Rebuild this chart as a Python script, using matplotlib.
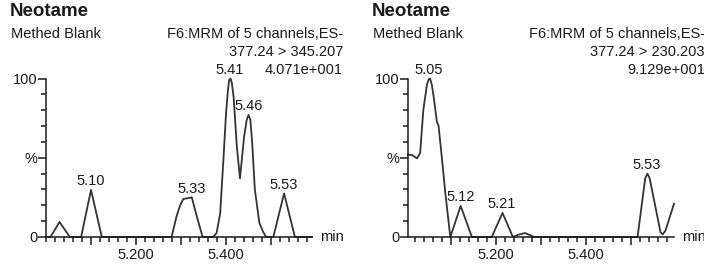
import matplotlib.pyplot as plt
from matplotlib.ticker import FixedLocator, MultipleLocator, FuncFormatter

plt.rcParams['font.family'] = ['Liberation Sans', 'DejaVu Sans']

# Left chromatogram: 377.24 > 345.207
time_left = [5.000, 5.010, 5.030, 5.053, 5.078, 5.100, 5.124,
             5.279, 5.290, 5.298, 5.305, 5.316, 5.324, 5.335, 5.348,
             5.371, 5.379, 5.387, 5.394, 5.400, 5.404, 5.407, 5.410, 5.413, 5.417, 5.424,
             5.431, 5.440, 5.446, 5.450, 5.454, 5.458, 5.464, 5.474, 5.482, 5.489,
             5.505, 5.529, 5.553, 5.591]
int_left = [0, 0, 9.5, 0, 0, 29.7, 0,
            0, 13, 20, 24, 24.5, 25, 13, 0,
            0, 2.5, 15, 48, 78, 92, 99, 100, 97, 88, 57,
            37, 63, 74, 77, 74, 60, 30, 9, 3.5, 0,
            0, 27.5, 0, 0]
peaks_left = [5.10, 5.33, 5.41, 5.46, 5.53]
peak_x_left = [5.099, 5.324, 5.408, 5.451, 5.528]
peak_y_left = [29.7, 25, 100, 77, 27.5]

# Right chromatogram: 377.24 > 230.203
time_right = [5.004, 5.013, 5.024, 5.031, 5.038, 5.046, 5.050, 5.053, 5.057, 5.061,
              5.068, 5.072, 5.079, 5.087, 5.098, 5.121, 5.146,
              5.190, 5.214, 5.237, 5.250, 5.264, 5.275, 5.284,
              5.514, 5.531, 5.536, 5.541, 5.565, 5.570, 5.576, 5.595]
int_right = [52, 51.7, 49.6, 53, 80, 96, 99.5, 100, 96, 88.6,
             73, 70, 50.6, 27.6, 0, 19.6, 0,
             0, 15.2, 0, 1.5, 2.5, 1.2, 0,
             0, 37, 40, 37, 3, 1.7, 4, 21]
peaks_right = [5.05, 5.12, 5.21, 5.53]
peak_x_right = [5.050, 5.120, 5.213, 5.535]
peak_y_right = [100, 19.6, 15.2, 40]

panels = [
    dict(t=time_left, y=int_left, labels=peaks_left, px=peak_x_left, py=peak_y_left,
         xlim=(5.0, 5.591), left=46, trans='377.24 > 345.207', scale='4.071e+001'),
    dict(t=time_right, y=int_right, labels=peaks_right, px=peak_x_right, py=peak_y_right,
         xlim=(5.004, 5.595), left=408, trans='377.24 > 230.203', scale='9.129e+001'),
]

W, H = 704, 266
fig = plt.figure(figsize=(W / 100, H / 100), dpi=100)
fs = 10.5
ink = '#1a1a1a'

for p in panels:
    x0 = p['left']
    ax = fig.add_axes([x0 / W, 29 / H, 266 / W, 158.5 / H])
    ax.plot(p['t'], p['y'], color='#333333', lw=1.3, clip_on=False)
    ax.set_xlim(*p['xlim'])
    ax.set_ylim(0, 100)
    for s in ['top', 'right']:
        ax.spines[s].set_visible(False)
    for s in ['left', 'bottom']:
        ax.spines[s].set_linewidth(1.1)
        ax.spines[s].set_color(ink)

    ax.xaxis.set_major_locator(FixedLocator([5.1, 5.2, 5.3, 5.4, 5.5]))
    ax.xaxis.set_major_formatter(FuncFormatter(
        lambda v, pos: f'{v:.3f}' if round(v, 2) in (5.2, 5.4) else ''))
    ax.xaxis.set_minor_locator(MultipleLocator(0.02))
    ax.yaxis.set_major_locator(FixedLocator([0, 50, 100]))
    ax.yaxis.set_major_formatter(FuncFormatter(
        lambda v, pos: {0: '0', 50: '%', 100: '100'}.get(int(round(v)), '')))
    ax.yaxis.set_minor_locator(MultipleLocator(10))
    ax.tick_params(which='major', length=5.8, width=1.1, color=ink,
                   labelsize=fs, labelcolor=ink, direction='out')
    ax.tick_params(which='minor', length=3.6, width=1.1, color=ink, direction='out')
    ax.tick_params(axis='x', which='major', pad=2)
    ax.tick_params(axis='y', which='major', pad=0.5)

    ax.annotate('min', xy=(1, 0), xycoords='axes fraction', xytext=(6, 0),
                textcoords='offset points', ha='left', va='center',
                fontsize=fs, color=ink, annotation_clip=False)

    for lab, px, py in zip(p['labels'], p['px'], p['py']):
        ax.annotate(f'{lab:.2f}', xy=(px, py), xytext=(0, 6.3),
                    textcoords='offset points', ha='center', va='center',
                    fontsize=fs, color=ink, annotation_clip=False)

    off = x0 - 46
    fig.text((10 + off) / W, 1 - 12 / H, 'Neotame', fontsize=13.5, fontweight='bold',
             ha='left', va='center', color=ink)
    fig.text((11 + off) / W, 1 - 34 / H, 'Methed Blank', fontsize=fs,
             ha='left', va='center', color=ink)
    fig.text((343 + off) / W, 1 - 34 / H, 'F6:MRM of 5 channels,ES-', fontsize=fs,
             ha='right', va='center', color=ink)
    fig.text((343 + off) / W, 1 - 52 / H, p['trans'], fontsize=fs,
             ha='right', va='center', color=ink)
    fig.text((343 + off) / W, 1 - 70 / H, p['scale'], fontsize=fs,
             ha='right', va='center', color=ink)

fig.savefig('out.png', dpi=100)
